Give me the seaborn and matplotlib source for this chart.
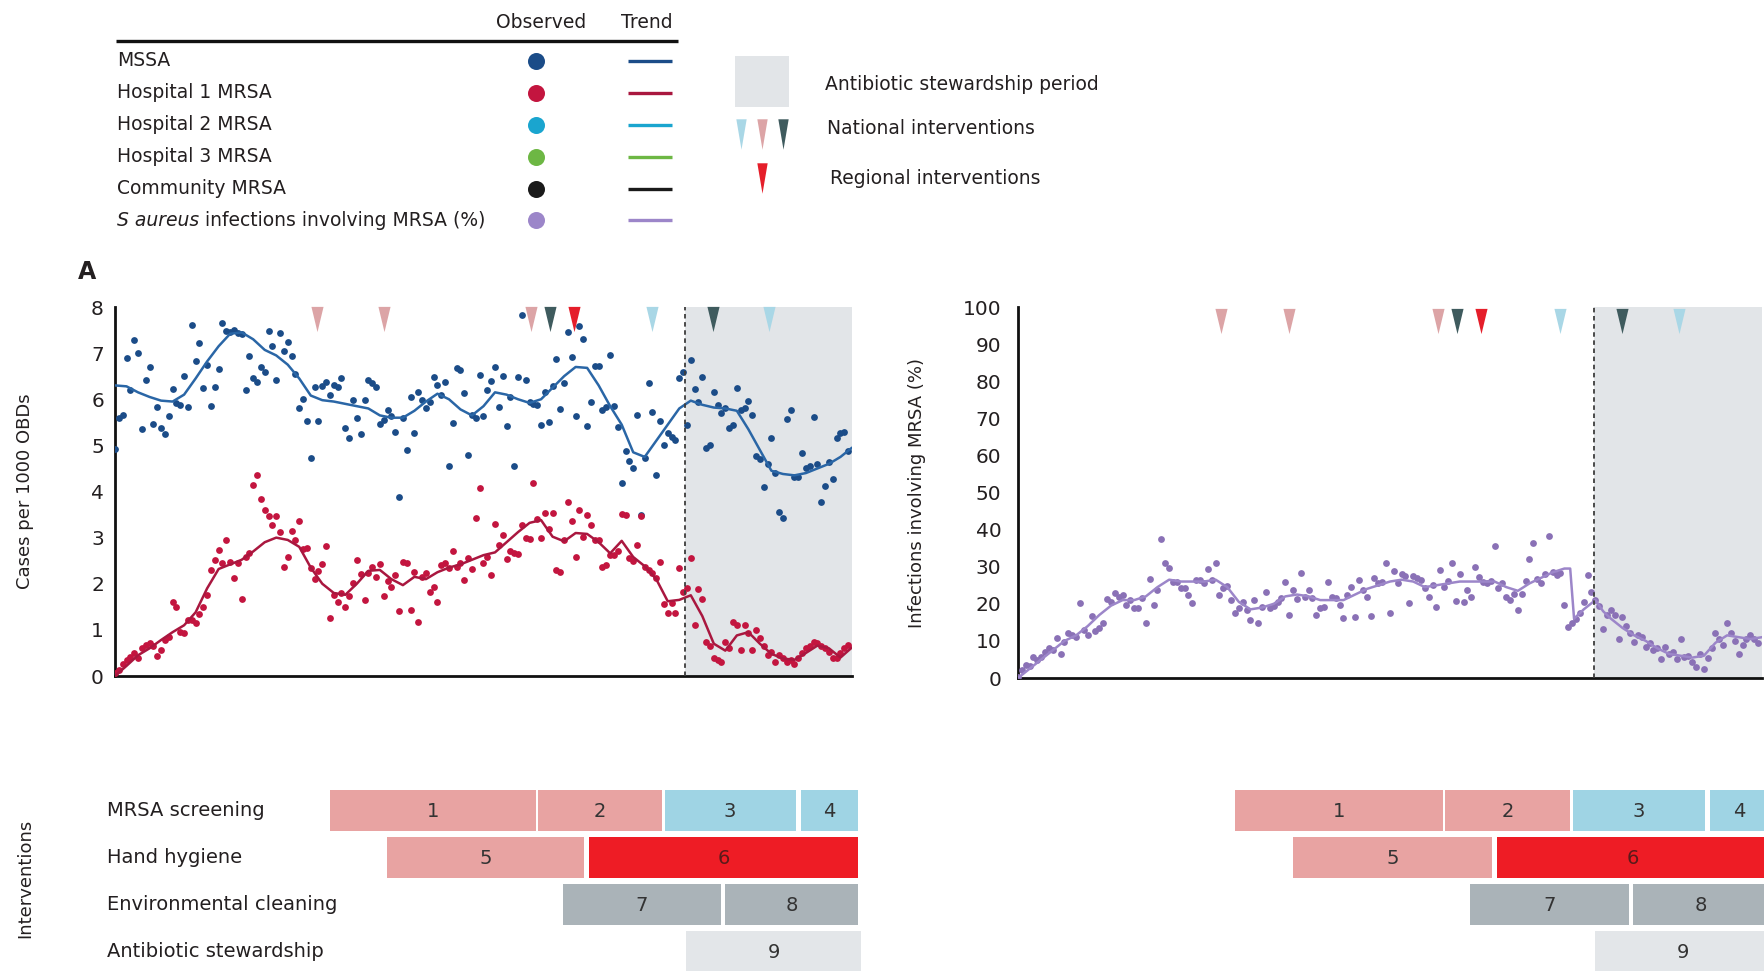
import numpy as np
import pandas as pd
import matplotlib
matplotlib.use("Agg")
import matplotlib.pyplot as plt
import seaborn as sns
from matplotlib.patches import Rectangle
from matplotlib.transforms import blended_transform_factory

# ---------------------------------------------------------------- data
month = np.arange(192)

mssa = [
    4.92, 5.59, 5.66, 6.89, 6.20, 7.29, 7.00, 5.35, 6.42, 6.69, 5.47, 5.84,
    5.37, 5.25, 5.63, 6.22, 5.91, 5.88, 6.50, 5.83, 7.60, 6.84, 7.22, 6.25,
    6.75, 5.86, 6.26, 6.65, 7.66, 7.49, 7.45, 7.50, 7.43, 7.42, 6.20, 6.94,
    6.46, 6.38, 6.71, 6.58, 7.49, 7.16, 6.42, 7.43, 7.04, 7.25, 6.93, 6.55,
    5.81, 6.00, 5.52, 4.72, 6.26, 5.52, 6.29, 6.38, 6.10, 6.31, 6.26, 6.46,
    5.37, 5.16, 5.99, 5.59, 5.25, 5.99, 6.42, 6.35, 6.26, 5.47, 5.54, 5.76,
    5.64, 5.30, 3.87, 5.59, 4.90, 6.04, 5.26, 6.15, 5.99, 5.81, 5.95, 6.48,
    6.31, 6.10, 6.38, 4.56, 5.48, 6.67, 6.64, 6.13, 4.79, 5.66, 5.59, 6.53,
    5.64, 6.19, 6.40, 6.71, 5.83, 6.51, 5.41, 6.04, 4.56, 6.49, 7.83, 6.42,
    5.95, 5.90, 5.88, 5.44, 6.15, 5.50, 6.29, 6.87, 5.78, 6.36, 7.45, 6.91,
    5.64, 7.58, 7.30, 5.42, 5.95, 6.72, 6.72, 5.77, 5.84, 6.96, 5.86, 5.39,
    4.18, 4.87, 4.67, 4.50, 5.66, 3.49, 4.72, 6.36, 5.73, 4.36, 5.52, 5.01,
    5.26, 5.19, 5.12, 6.46, 6.60, 5.44, 6.85, 6.22, 5.95, 6.48, 4.94, 5.01,
    6.15, 5.88, 5.70, 5.80, 5.37, 5.44, 6.24, 5.77, 5.81, 5.97, 5.66, 4.76,
    4.70, 4.09, 4.60, 5.16, 4.40, 3.56, 3.42, 5.57, 5.77, 4.32, 4.32, 4.84,
    4.50, 4.56, 5.61, 4.60, 3.78, 4.11, 4.63, 4.27, 5.16, 5.26, 5.30, 4.87,
]

hosp1_mrsa = [
    0.06, 0.13, 0.27, 0.35, 0.42, 0.49, 0.38, 0.60, 0.67, 0.71, 0.64, 0.43,
    0.56, 0.78, 0.85, 1.61, 1.50, 0.96, 0.93, 1.21, 1.21, 1.14, 1.34, 1.50,
    1.76, 2.30, 2.52, 2.73, 2.44, 2.95, 2.48, 2.13, 2.44, 1.68, 2.59, 2.66,
    4.14, 4.36, 3.83, 3.59, 3.46, 3.28, 3.46, 3.12, 2.37, 2.59, 3.15, 2.94,
    3.35, 2.75, 2.77, 2.34, 2.10, 2.28, 2.43, 2.82, 1.25, 1.76, 1.61, 1.79,
    1.50, 1.74, 2.01, 2.52, 2.21, 1.65, 2.23, 2.37, 2.14, 2.43, 1.74, 2.05,
    1.94, 2.19, 1.40, 2.48, 2.44, 1.43, 2.26, 1.18, 2.15, 2.23, 1.83, 1.94,
    1.61, 2.41, 2.44, 2.34, 2.70, 2.37, 2.44, 2.08, 2.55, 2.31, 3.42, 4.07,
    2.44, 2.59, 2.19, 3.30, 2.84, 3.06, 2.53, 2.72, 2.66, 2.65, 3.28, 2.99,
    2.96, 4.18, 3.40, 2.99, 3.53, 3.18, 3.53, 2.30, 2.26, 2.95, 3.78, 3.35,
    2.59, 3.59, 3.01, 3.49, 3.28, 2.95, 2.94, 2.37, 2.41, 2.62, 2.62, 2.70,
    3.51, 3.49, 2.55, 2.50, 2.84, 3.47, 2.37, 2.30, 2.23, 2.12, 2.48, 1.56,
    1.36, 1.58, 1.36, 2.34, 1.83, 1.90, 2.55, 1.11, 1.88, 1.68, 0.74, 0.64,
    0.38, 0.35, 0.31, 0.74, 0.60, 1.18, 1.11, 0.56, 1.11, 0.93, 0.56, 1.00,
    0.82, 0.64, 0.46, 0.53, 0.31, 0.46, 0.38, 0.31, 0.35, 0.27, 0.38, 0.49,
    0.60, 0.64, 0.74, 0.71, 0.64, 0.60, 0.53, 0.38, 0.38, 0.49, 0.60, 0.67,
]

pct_mrsa = [
    0.4, 2.2, 3.5, 3.1, 5.75, 4.85, 5.75, 7.1, 8.0, 7.5, 10.7, 6.5,
    9.8, 12.0, 11.6, 11.0, 20.1, 12.9, 11.6, 16.7, 12.7, 13.4, 14.9, 21.2,
    20.6, 23.0, 21.9, 22.4, 19.7, 21.0, 18.8, 18.8, 21.5, 14.9, 26.6, 19.7,
    23.7, 37.4, 30.9, 29.6, 26.0, 26.0, 24.2, 24.2, 22.4, 20.1, 26.4, 26.4,
    25.5, 29.3, 26.4, 30.9, 22.4, 24.2, 24.8, 21.0, 17.4, 18.8, 20.6, 18.3,
    15.5, 21.0, 14.7, 19.2, 23.3, 19.0, 19.4, 20.5, 21.5, 26.0, 17.0, 23.7,
    21.2, 28.4, 21.7, 23.7, 21.5, 17.0, 18.8, 19.2, 26.0, 21.9, 21.5, 19.7,
    16.1, 22.4, 24.6, 16.4, 26.4, 23.7, 21.9, 16.7, 26.9, 25.5, 26.0, 31.1,
    17.6, 28.9, 25.5, 28.0, 27.5, 20.3, 27.5, 26.9, 26.4, 24.2, 21.9, 25.1,
    19.2, 29.1, 24.4, 26.2, 31.1, 20.8, 28.0, 20.6, 23.7, 21.9, 29.8, 27.1,
    26.0, 25.7, 26.2, 35.6, 24.2, 25.7, 21.7, 21.0, 22.6, 18.3, 22.6, 26.2,
    32.0, 36.5, 26.6, 25.5, 28.0, 38.3, 28.7, 27.8, 28.4, 19.7, 13.8, 14.7,
    16.0, 17.5, 20.5, 27.7, 23.2, 21.0, 19.5, 13.3, 17.0, 18.3, 16.9, 10.6,
    16.5, 14.0, 12.0, 9.7, 11.5, 11.1, 8.4, 9.5, 7.5, 8.0, 5.2, 8.4,
    6.6, 7.0, 5.2, 10.4, 5.7, 6.0, 4.3, 3.0, 6.5, 2.5, 5.5, 8.0,
    12.0, 10.6, 9.0, 14.7, 12.0, 10.0, 6.6, 9.0, 10.6, 11.5, 10.6, 9.5,
]

trend_month = list(range(0, 193, 3))

mssa_trend = [
    6.30, 6.28, 6.15, 6.05, 5.97, 5.95, 6.10, 6.45, 6.82, 7.15, 7.42, 7.45,
    7.30, 7.07, 6.95, 6.75, 6.45, 6.08, 5.98, 5.95, 5.90, 5.85, 5.80, 5.65,
    5.60, 5.60, 5.75, 5.95, 6.12, 6.00, 5.78, 5.65, 5.85, 6.15, 6.10, 6.00,
    5.92, 6.00, 6.25, 6.50, 6.70, 6.68, 6.30, 5.85, 5.45, 4.85, 4.75, 5.10,
    5.45, 5.80, 5.97, 5.88, 5.82, 5.80, 5.75, 5.35, 4.90, 4.45, 4.38, 4.35,
    4.40, 4.50, 4.60, 4.75, 4.95,
]

hosp1_trend = [
    0.00, 0.22, 0.45, 0.60, 0.78, 0.95, 1.10, 1.38, 1.90, 2.32, 2.42, 2.52,
    2.70, 2.90, 3.00, 2.95, 2.80, 2.35, 2.00, 1.80, 1.76, 2.00, 2.28, 2.30,
    2.10, 1.97, 2.15, 2.10, 2.25, 2.35, 2.42, 2.52, 2.62, 2.68, 2.90, 3.12,
    3.32, 3.38, 3.02, 2.92, 3.10, 3.08, 2.90, 2.66, 2.93, 2.58, 2.38, 2.10,
    1.62, 1.65, 1.75, 1.30, 0.70, 0.55, 0.88, 0.95, 0.70, 0.48, 0.38, 0.35,
    0.50, 0.66, 0.60, 0.40, 0.62,
]

pct_trend_month = [
    0, 3, 6, 9, 12, 15, 18, 21, 24, 27, 30, 33, 36, 39, 42, 45, 48, 51, 54,
    57, 60, 63, 66, 69, 72, 75, 78, 81, 84, 87, 90, 93, 96, 99, 102, 105,
    108, 111, 114, 117, 120, 123, 126, 129, 132, 135, 138, 141, 142.5,
    143.5, 146, 149, 151, 153, 156, 159, 162, 165, 168, 171, 174, 177, 180,
    183, 186, 189, 192,
]
pct_trend = [
    0, 2.5, 5, 7.5, 10, 11.5, 14, 17, 19.5, 21, 21, 22, 24.5, 26.5, 26, 26,
    26, 26.5, 24.5, 20.5, 18.5, 19, 20, 22, 22.5, 22, 21, 21, 21, 22.5, 24,
    25, 26, 26.5, 26, 24.5, 25, 25.5, 26, 26, 26, 26, 24.5, 23.5, 25.5, 27,
    28.5, 29.5, 29.5, 16, 18.5, 21, 18, 16, 13.5, 11.5, 10, 8, 6.5, 6, 5.5,
    6, 9.5, 11.5, 11, 10.5, 11,
]

stewardship_start = 148.6

intervention_month = [52.5, 70.0, 108.5, 113.3, 119.6, 140.0, 155.8, 170.5]
intervention_kind = ["pink", "pink", "pink", "dark", "regional",
                     "light", "dark", "light"]

series_names = ["MSSA", "Hospital 1 MRSA", "Hospital 2 MRSA",
                "Hospital 3 MRSA", "Community MRSA"]

intervention_rows = ["MRSA screening", "Hand hygiene",
                     "Environmental cleaning", "Antibiotic stewardship"]
phase_label = ["1", "2", "3", "4", "5", "6", "7", "8", "9"]
phase_row = [0, 0, 0, 0, 1, 1, 2, 2, 3]
phase_start = [56.0, 110.3, 143.2, 178.6, 70.9, 123.5, 116.6, 158.8, 148.8]
phase_end = [109.6, 142.5, 177.3, 193.6, 122.3, 193.6, 157.8, 193.6, 194.3]
phase_kind = ["pink", "pink", "light", "light", "pink", "red",
              "grey", "grey", "pale"]

# ---------------------------------------------------------------- style
sns.set_style("white")
plt.rcParams["font.family"] = ["DejaVu Sans"]
TXT = "#231f20"

C_MSSA_PT, C_MSSA_LN = "#1b4c88", "#2a66a6"
C_H1_PT, C_H1_LN = "#c3153f", "#a9173f"
C_PCT_PT, C_PCT_LN = "#8a71b6", "#9c86c9"
C_H2, C_H3, C_COMM = "#1aa5cf", "#6db744", "#1a1a1a"
SHADE = "#e2e5e8"
TRI = {"pink": "#dca4a6", "dark": "#3f5b5e", "light": "#a9d7e6",
       "regional": "#e51e2a"}
BAR = {"pink": "#e8a3a2", "light": "#9fd4e4", "red": "#ee1c25",
       "grey": "#aab3b8", "pale": "#e3e6e9"}

W, H = 1765, 971
fig = plt.figure(figsize=(W / 100, H / 100), dpi=100)

tri_verts = [(-0.24, 0.5), (0.24, 0.5), (0.0, -0.5), (-0.24, 0.5)]
tri_verts_slim = [(-0.17, 0.5), (0.17, 0.5), (0.0, -0.5), (-0.17, 0.5)]


def axes_px(x0, y_top, w, h):
    return [x0 / W, (H - y_top - h) / H, w / W, h / H]


def style_time_axis(ax, ylen, ywid):
    for s in ("top", "right"):
        ax.spines[s].set_visible(False)
    for s in ("left", "bottom"):
        ax.spines[s].set_linewidth(2.0)
        ax.spines[s].set_color("#111111")
    ax.set_xlim(0, 192)
    ax.set_xticks(np.arange(0, 193, 12))
    ax.set_xticklabels([])
    ax.tick_params(axis="x", direction="out", length=10, width=1.3,
                   color="#111111")
    ax.tick_params(axis="y", direction="out", length=ylen, width=ywid,
                   color="#111111", labelsize=14.5, labelcolor=TXT, pad=3)
    ax.set_xlabel("")
    ax.set_facecolor("white")


def mark_interventions(ax, yc, size):
    for m, k in zip(intervention_month, intervention_kind):
        ax.scatter([m], [yc], marker=tri_verts, s=size, color=TRI[k],
                   linewidths=0, zorder=6, clip_on=False)


def stewardship_band(ax):
    ax.axvspan(stewardship_start, 192, color=SHADE, zorder=0, lw=0)
    ax.axvline(stewardship_start, color="#3d3d3d", ls=(0, (2.5, 2)),
               lw=1.3, zorder=5)


# ---------------------------------------------------------------- panel A, rates
ax1 = fig.add_axes(axes_px(115, 307, 737, 369))
stewardship_band(ax1)
cases = pd.DataFrame({"month": month, "MSSA": mssa, "H1": hosp1_mrsa})
sns.scatterplot(data=cases, x="month", y="MSSA", ax=ax1, color=C_MSSA_PT,
                s=24, linewidth=0, zorder=3, legend=False)
sns.scatterplot(data=cases, x="month", y="H1", ax=ax1, color=C_H1_PT,
                s=24, linewidth=0, zorder=3, legend=False)
sns.lineplot(x=trend_month, y=mssa_trend, ax=ax1, color=C_MSSA_LN, lw=1.8,
             sort=False, estimator=None, zorder=4, legend=False)
sns.lineplot(x=trend_month, y=hosp1_trend, ax=ax1, color=C_H1_LN, lw=1.8,
             sort=False, estimator=None, zorder=4, legend=False)
ax1.set_ylim(0, 8)
ax1.set_yticks(range(0, 9))
style_time_axis(ax1, 5, 1.8)
mark_interventions(ax1, 7.73, 330)
ax1.set_ylabel("Cases per 1000 OBDs", fontsize=13, color=TXT)
ax1.yaxis.set_label_coords(-0.11, 0.5)

# ---------------------------------------------------------------- panel A, proportion
ax2 = fig.add_axes(axes_px(1018, 307, 744, 371))
stewardship_band(ax2)
prop = pd.DataFrame({"month": month, "pct": pct_mrsa})
sns.scatterplot(data=prop, x="month", y="pct", ax=ax2, color=C_PCT_PT,
                s=24, linewidth=0, zorder=3, legend=False)
sns.lineplot(x=pct_trend_month, y=pct_trend, ax=ax2, color=C_PCT_LN, lw=1.8,
             sort=False, estimator=None, zorder=4, legend=False)
ax2.set_ylim(0, 100)
ax2.set_yticks(range(0, 101, 10))
style_time_axis(ax2, 9, 2.6)
mark_interventions(ax2, 96.2, 330)
ax2.set_ylabel("Infections involving MRSA (%)", fontsize=13, color=TXT)
ax2.yaxis.set_label_coords(-0.124, 0.5)

# ---------------------------------------------------------------- panel B, intervention phases
def phase_axes(x0, w):
    bx = fig.add_axes(axes_px(x0, 786, w, 185))
    bx.set_xlim(0, 192)
    bx.set_ylim(3.415, -0.521)
    bx.axis("off")
    for lab, r, a, b, k in zip(phase_label, phase_row, phase_start,
                               phase_end, phase_kind):
        bx.barh(r, b - a, left=a, height=0.89, color=BAR[k], lw=0,
                clip_on=False)
        tc = "#5a1a1a" if k == "red" else "#333333"
        bx.text((a + b) / 2, r + 0.02, lab, ha="center", va="center",
                fontsize=14, color=tc, clip_on=False)
    return bx


bx1 = phase_axes(115, 737)
bx2 = phase_axes(1018, 744)
row_tr = blended_transform_factory(fig.transFigure, bx1.transData)
for i, name in enumerate(intervention_rows):
    fig.text(107 / W, i, name, transform=row_tr, ha="left", va="center",
             fontsize=14, color=TXT)

# ---------------------------------------------------------------- key and labels
ov = fig.add_axes([0, 0, 1, 1], zorder=10)
ov.set_xlim(0, W)
ov.set_ylim(H, 0)
ov.axis("off")

ov.text(87, 272, "A", fontsize=17, fontweight="bold", color=TXT,
        ha="center", va="center")
ov.text(25, 878, "Interventions", rotation=90, fontsize=13, color=TXT,
        ha="center", va="center")

ov.text(541, 22, "Observed", fontsize=13.5, color=TXT, ha="center",
        va="center")
ov.text(647, 22, "Trend", fontsize=13.5, color=TXT, ha="center",
        va="center")
ov.plot([116, 678], [41.5, 41.5], color="#111111", lw=2.4,
        solid_capstyle="butt")

key_pt = [C_MSSA_PT, C_H1_PT, C_H2, C_H3, C_COMM, C_PCT_LN]
key_ln = [C_MSSA_PT, C_H1_LN, C_H2, C_H3, C_COMM, C_PCT_LN]
row_y = [61 + 31.9 * i for i in range(6)]
for i, yy in enumerate(row_y):
    if i < len(series_names):
        ov.text(117, yy, series_names[i], fontsize=13.5, color=TXT,
                ha="left", va="center")
    ov.scatter([536], [yy], s=150, color=key_pt[i], linewidths=0)
    ov.plot([628, 672], [yy, yy], color=key_ln[i], lw=2.4,
            solid_capstyle="butt")

t_it = ov.text(117, row_y[5], "S aureus", fontsize=13.5, color=TXT,
               style="italic", ha="left", va="center")
fig.canvas.draw()
bb = t_it.get_window_extent()
x_end = ov.transData.inverted().transform((bb.x1, bb.y0))[0]
ov.text(x_end, row_y[5], " infections involving MRSA (%)", fontsize=13.5,
        color=TXT, ha="left", va="center")

ov.add_patch(Rectangle((735, 56), 54, 51, color=SHADE, lw=0))
ov.text(825, 84, "Antibiotic stewardship period", fontsize=13.5, color=TXT,
        ha="left", va="center")
for xx, k in zip([741, 762, 783], ["light", "pink", "dark"]):
    ov.scatter([xx], [134], marker=tri_verts_slim, s=480, color=TRI[k],
               linewidths=0)
ov.text(827, 129, "National interventions", fontsize=13.5, color=TXT,
        ha="left", va="center")
ov.scatter([762], [178.5], marker=tri_verts_slim, s=480,
           color=TRI["regional"], linewidths=0)
ov.text(830, 179, "Regional interventions", fontsize=13.5, color=TXT,
        ha="left", va="center")

fig.savefig("out.png", dpi=100)
